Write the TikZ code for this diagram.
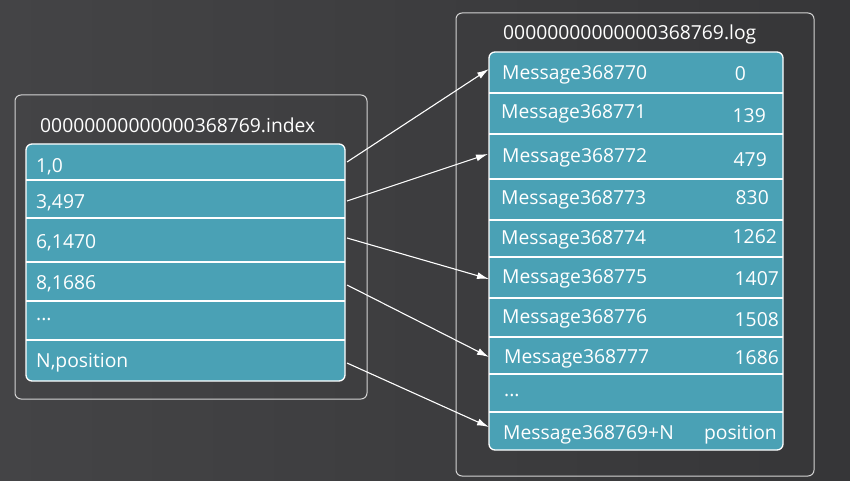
\documentclass[tikz,border=0pt]{standalone}
\usepackage{fontspec}
\setmainfont{Open Sans}
\usetikzlibrary{arrows.meta}
\definecolor{bgL}{HTML}{444446}
\definecolor{bgR}{HTML}{363638}
\definecolor{teal}{HTML}{4AA1B5}
\definecolor{frame}{HTML}{D4D4D4}
\tikzset{
  outerbox/.style={draw=frame, line width=1pt, rounded corners=6pt},
  innerbox/.style={draw=white, fill=teal, line width=1.3pt, rounded corners=6pt},
  sep/.style={draw=white, line width=1.5pt},
  txt/.style={anchor=base west, text=white, inner sep=0pt, font=\fontsize{19.3}{21}\selectfont},
  num/.style={anchor=base east, text=white, inner sep=0pt, font=\fontsize{19.3}{21}\selectfont},
  ttl/.style={anchor=base west, text=white, inner sep=0pt, font=\fontsize{19.3}{21}\selectfont},
  link/.style={draw=white, line width=1.1pt, -{Latex[length=12pt,width=7pt]}}
}
\begin{document}
\begin{tikzpicture}[x=1pt,y=-1pt]
\useasboundingbox (0,0) rectangle (850,481);
\shade[left color=bgL, right color=bgR] (0,0) rectangle (850,481);

% left index file
\draw[outerbox] (15,95) rectangle (367,399);
\node[ttl] (ititle) at (40,133) {00000000000000368769.index};
\draw[innerbox] (26,144) rectangle (345,381);
\foreach \y in {180,218,262,301,340} \draw[sep] (26,\y) -- (345,\y);
\node[txt] (r1) at (36,172) {1,0};
\node[txt] (r2) at (36,208) {3,497};
\node[txt] (r3) at (36,248) {6,1470};
\node[txt] (r4) at (36,289) {8,1686};
\node[txt] (r5) at (36,320) {...};
\node[txt] (r6) at (36,367) {N,position};

% right log file
\draw[outerbox] (456,13) rectangle (814,476);
\node[ttl] (ltitle) at (503,40) {00000000000000368769.log};
\draw[innerbox] (489,52) rectangle (783,450);
\foreach \y in {93,134,179,220,257,298,337,374,412} \draw[sep] (489,\y) -- (783,\y);
\node[txt] (m0) at (502,80) {Message368770};
\node[txt] (m1) at (501,119) {Message368771};
\node[txt] (m2) at (502,162) {Message368772};
\node[txt] (m3) at (501,204) {Message368773};
\node[txt] (m4) at (501,244) {Message368774};
\node[txt] (m5) at (502,283) {Message368775};
\node[txt] (m6) at (502,323) {Message368776};
\node[txt] (m7) at (504,363) {Message368777};
\node[txt] (m8) at (504,396) {...};
\node[txt] (m9) at (503,439) {Message368769+N};
\node[num] (o0) at (746,81) {0};
\node[num] (o1) at (766,123) {139};
\node[num] (o2) at (767,166) {479};
\node[num] (o3) at (769,204) {830};
\node[num] (o4) at (777,243) {1262};
\node[num] (o5) at (779,285) {1407};
\node[num] (o6) at (779,326) {1508};
\node[num] (o7) at (779,364) {1686};
\node[num] (o9) at (777,439) {position};

% connector end points
\coordinate (a1) at (347,162);
\coordinate (a2) at (347,201);
\coordinate (a3) at (347,238);
\coordinate (a4) at (347,285);
\coordinate (a5) at (347,363);
\coordinate (b1) at (489,69);
\coordinate (b2) at (488,154);
\coordinate (b3) at (489,279);
\coordinate (b4) at (489,357);
\coordinate (b5) at (489,427);
\draw[link] (a1) -- (b1);
\draw[link] (a2) -- (b2);
\draw[link] (a3) -- (b3);
\draw[link] (a4) -- (b4);
\draw[link] (a5) -- (b5);
\end{tikzpicture}
\end{document}
